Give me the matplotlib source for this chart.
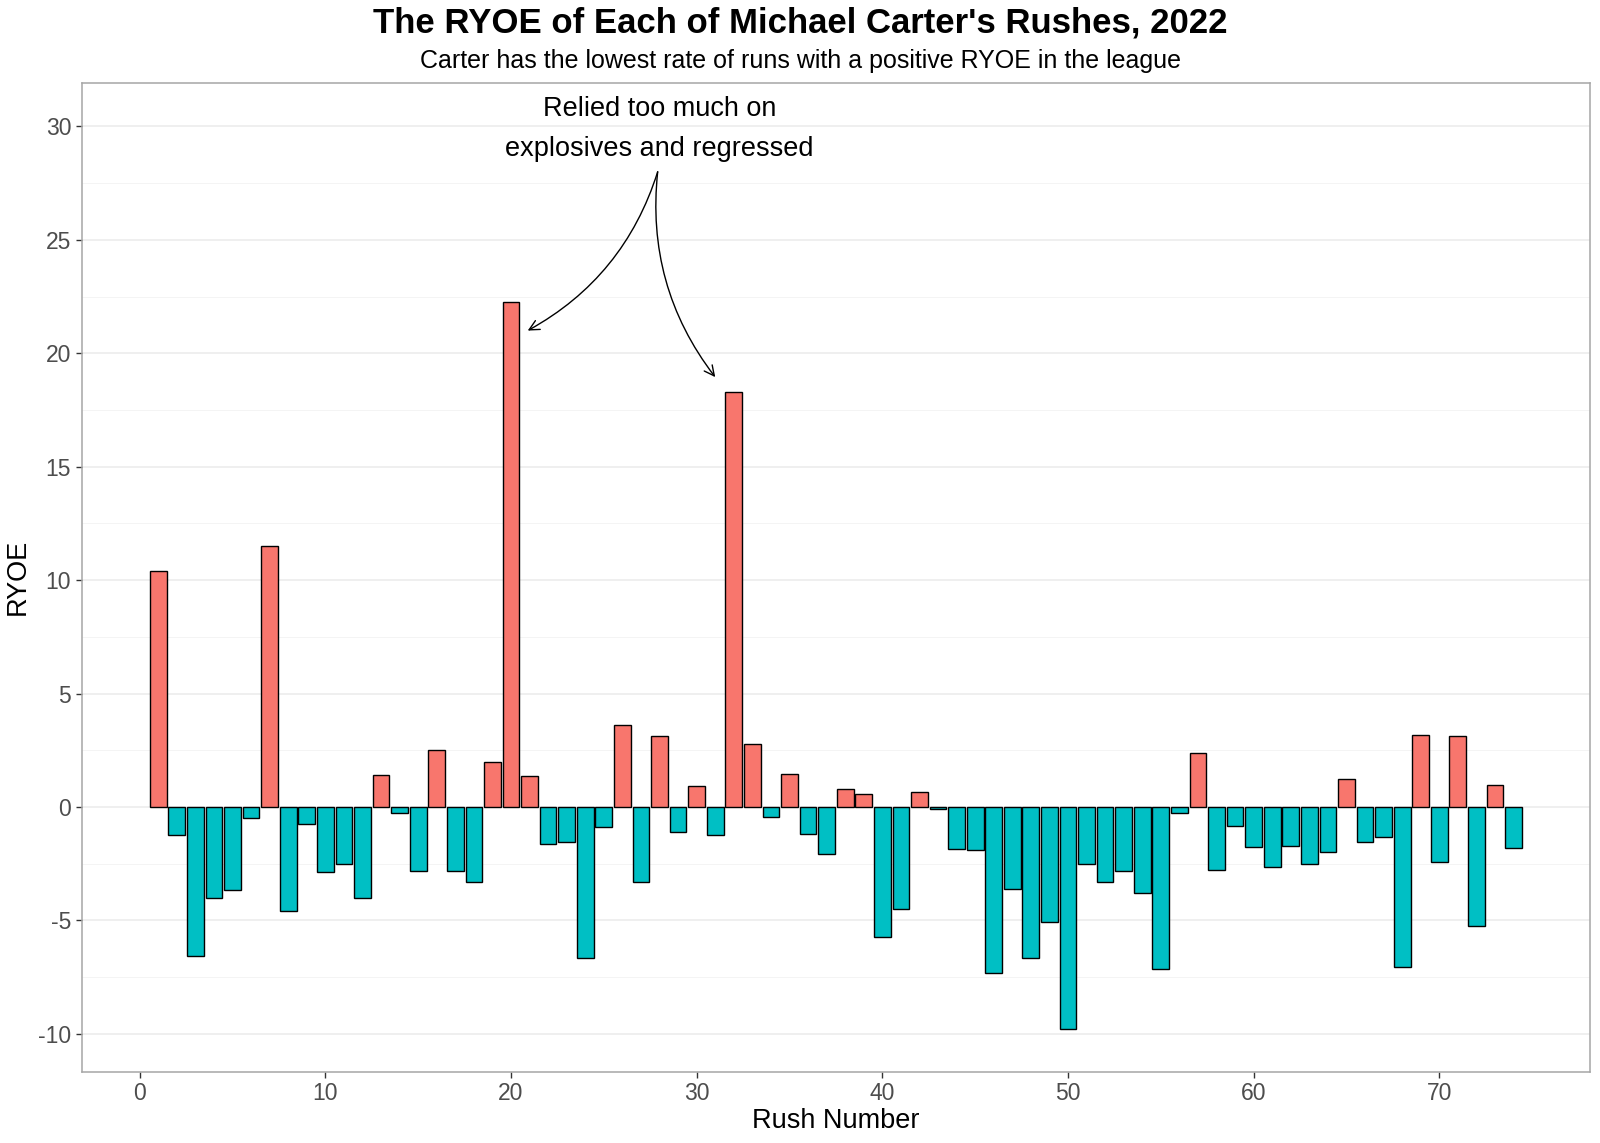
import numpy as np
import matplotlib
matplotlib.use("Agg")
import matplotlib.pyplot as plt
from matplotlib.ticker import MultipleLocator

plt.rcParams['font.family'] = ['Liberation Sans', 'DejaVu Sans']
plt.rcParams['axes.unicode_minus'] = False

# RYOE per rush
rush = np.arange(1, 75)
ryoe = [10.4, -1.25, -6.55, -4.0, -3.65, -0.5, 11.5, -4.6, -0.75, -2.85,
        -2.5, -4.0, 1.42, -0.26, -2.8, 2.5, -2.84, -3.3, 2.0, 22.25,
        1.37, -1.65, -1.53, -6.65, -0.86, 3.62, -3.32, 3.12, -1.12, 0.92,
        -1.25, 18.3, 2.78, -0.43, 1.44, -1.17, -2.08, 0.81, 0.57, -5.71,
        -4.49, 0.68, -0.09, -1.85, -1.88, -7.33, -3.6, -6.65, -5.08, -9.77,
        -2.52, -3.29, -2.84, -3.77, -7.12, -0.25, 2.39, -2.79, -0.84, -1.76,
        -2.64, -1.71, -2.49, -1.99, 1.25, -1.53, -1.3, -7.07, 3.19, -2.43,
        3.13, -5.24, 0.97, -1.79]

pos_col = "#F8766D"
neg_col = "#00BFC4"

title = "The RYOE of Each of Michael Carter's Rushes, 2022"
subtitle = "Carter has the lowest rate of runs with a positive RYOE in the league"
note = "Relied too much on\nexplosives and regressed"
note_xy = (28, 29.9)
arrow_start = (27.9, 28.0)
arrow_ends = [(20.9, 21.0), (31.0, 18.95)]
arrow_rads = [-0.2, 0.2]

fig = plt.figure(figsize=(16, 11.43), dpi=100)
ax = fig.add_axes([0.051, 0.0625, 0.943, 0.8652])

cols = [pos_col if v > 0 else neg_col for v in ryoe]
ax.bar(rush, ryoe, width=0.9, color=cols, edgecolor="black", linewidth=1.0, zorder=3)

ax.set_xlim(-3.13, 78.14)
ax.set_ylim(-11.66, 31.93)
ax.yaxis.set_major_locator(MultipleLocator(5))
ax.yaxis.set_minor_locator(MultipleLocator(2.5))
ax.xaxis.set_major_locator(MultipleLocator(10))
ax.grid(axis="y", which="major", color="#ebebeb", linewidth=1.1, zorder=0)
ax.grid(axis="y", which="minor", color="#f3f3f3", linewidth=0.6, zorder=0)
ax.tick_params(axis="y", which="minor", length=0)
ax.tick_params(which="major", length=4, width=1, color="#333333",
               labelsize=16.5, labelcolor="#4d4d4d")
for s in ax.spines.values():
    s.set_color("#a6a6a6")
    s.set_linewidth(1.1)

ax.set_xlabel("Rush Number", fontsize=19.5, labelpad=2)
ax.set_ylabel("RYOE", fontsize=19.5, va="center")
ax.yaxis.set_label_coords(-0.042, 0.5)

fig.text(0.5, 0.980, title, ha="center", va="center", fontsize=25, fontweight="bold")
fig.text(0.5, 0.947, subtitle, ha="center", va="center", fontsize=18)

ax.text(note_xy[0], note_xy[1], note, ha="center", va="center",
        fontsize=19.5, linespacing=1.7)
for end, rad in zip(arrow_ends, arrow_rads):
    ax.annotate("", xy=end, xytext=arrow_start,
                arrowprops=dict(arrowstyle="->", color="black", lw=1.0,
                                shrinkA=0, shrinkB=0, mutation_scale=18,
                                connectionstyle="arc3,rad=%s" % rad))

fig.savefig("out.png", dpi=100)
